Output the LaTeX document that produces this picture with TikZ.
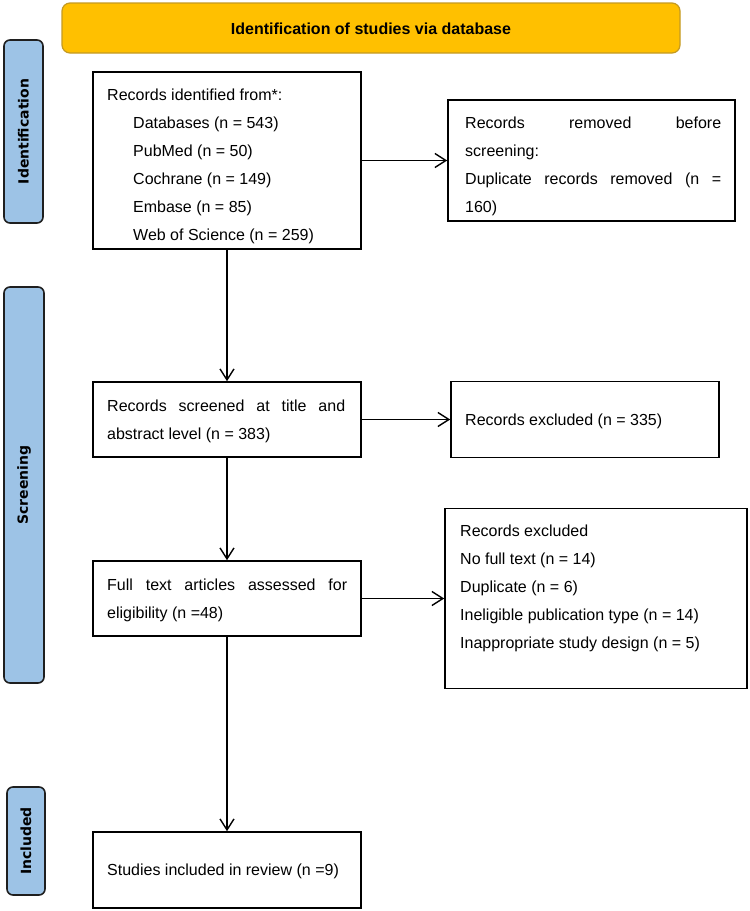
\documentclass[tikz,border=0pt]{standalone}
\usepackage{fontspec}
\setmainfont{Liberation Sans}
\newfontfamily\lanefont{DejaVu Sans}
\usetikzlibrary{arrows.meta}
\definecolor{hdrfill}{HTML}{FFC000}
\definecolor{hdrline}{HTML}{C49A22}
\definecolor{lanefill}{HTML}{9DC3E6}
\definecolor{laneline}{HTML}{1F1F1F}
\begin{document}
\begin{tikzpicture}[x=1pt,y=-1pt,
  box/.style={draw=black, line width=1.6pt, fill=white, rectangle, inner sep=0pt},
  lane/.style={draw=laneline, line width=1.6pt, fill=lanefill, rounded corners=6pt, inner sep=0pt,
    font=\lanefont\bfseries\fontsize{14pt}{16pt}\selectfont},
  hdr/.style={draw=hdrline, line width=1.2pt, fill=hdrfill, rounded corners=8pt, inner sep=0pt},
  txt/.style={inner sep=0pt, anchor=base west, font=\fontsize{16pt}{28pt}\selectfont},
  arr/.style={line width=1.4pt, -{Straight Barb[length=11pt,width=14pt,line width=1.4pt]}}
]
\useasboundingbox (0,0) rectangle (750,911);

% header
\node[hdr, minimum width=618pt, minimum height=50pt] (head) at (371,28) {};
\node[inner sep=0pt, anchor=base, font=\bfseries\fontsize{16pt}{20pt}\selectfont] (headtxt) at (371,34) {Identification of studies via database};

% lanes
\node[lane, rotate=90, minimum width=183pt, minimum height=39pt] (lid) at (23.5,131.5) {Identification};
\node[lane, rotate=90, minimum width=396pt, minimum height=40pt] (lscr) at (24,485) {Screening};
\node[lane, rotate=90, minimum width=108pt, minimum height=38pt] (linc) at (26,841) {Included};

% boxes
\node[box, minimum width=268pt, minimum height=177pt] (id) at (227,160.5) {};
\node[box, minimum width=287pt, minimum height=121pt] (rem) at (591.5,160.5) {};
\node[box, minimum width=268pt, minimum height=75pt] (scr) at (227,419.5) {};
\node[box, minimum width=268pt, minimum height=76pt] (exa) at (585,419.5) {};
\node[box, minimum width=268pt, minimum height=75pt] (full) at (227,598.5) {};
\node[box, minimum width=302pt, minimum height=180pt] (exb) at (596,598.5) {};
\node[box, minimum width=268pt, minimum height=76pt] (stud) at (227,870) {};

% texts
\node[txt] (idtxt) at (107,100) {\parbox[t]{250pt}{Records identified from*:\\
\hspace*{26pt}Databases (n = 543)\\
\hspace*{26pt}PubMed (n = 50)\\
\hspace*{26pt}Cochrane (n = 149)\\
\hspace*{26pt}Embase (n = 85)\\
\hspace*{26pt}Web of Science (n = 259)}};
\node[txt] (remtxt) at (465,128) {\parbox[t]{256pt}{Records\hfill removed\hfill before\\
screening:\\
Duplicate\hfill records\hfill removed\hfill (n\hfill =\\
160)}};
\node[txt] (scrtxt) at (107,411) {\parbox[t]{238pt}{Records\hfill screened\hfill at\hfill title\hfill and\\
abstract level (n = 383)}};
\node[txt] (exatxt) at (465,425) {Records excluded (n = 335)};
\node[txt] (fulltxt) at (107,590) {\parbox[t]{240pt}{Full\hfill text\hfill articles\hfill assessed\hfill for\\
eligibility (n =48)}};
\node[txt] (exbtxt) at (460,536) {\parbox[t]{280pt}{Records excluded\\
No full text (n = 14)\\
Duplicate (n = 6)\\
Ineligible publication type (n = 14)\\
Inappropriate study design (n = 5)}};
\node[txt] (studtxt) at (107,875) {Studies included in review (n =9)};

% arrows
\draw[arr] (id.east) -- (rem.west);
\draw[arr] (id.south) -- (scr.north);
\draw[arr] (scr.east) -- (exa.west);
\draw[arr] (scr.south) -- (full.north);
\draw[arr] (full.east) -- (exb.west);
\draw[arr] (full.south) -- (stud.north);
\end{tikzpicture}
\end{document}
